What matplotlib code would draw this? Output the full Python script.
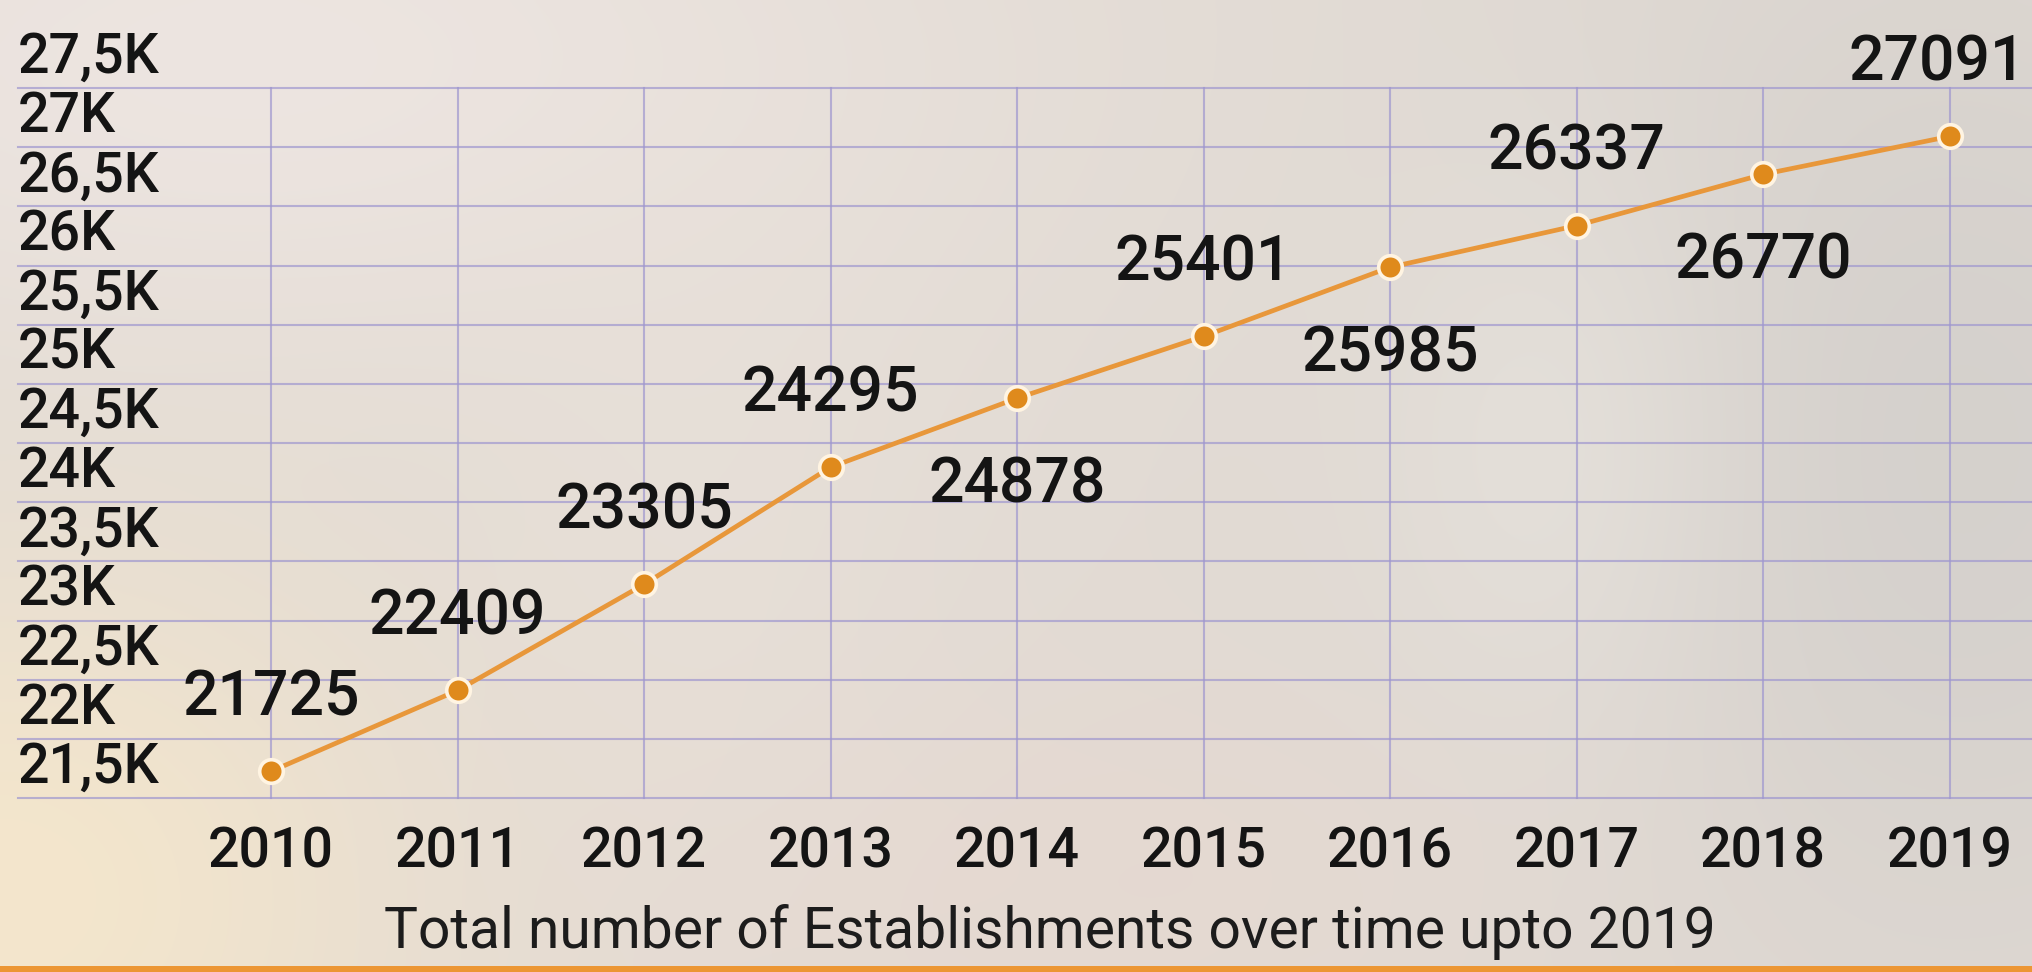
import numpy as np
import matplotlib
matplotlib.use("Agg")
import matplotlib.pyplot as plt
from matplotlib.transforms import offset_copy

# ---- data -------------------------------------------------------------
years = [2010, 2011, 2012, 2013, 2014, 2015, 2016, 2017, 2018, 2019]
establishments = [21725, 22409, 23305, 24295, 24878, 25401, 25985, 26337, 26770, 27091]
label_side = ["above", "above", "above", "above", "below",
              "above", "below", "above", "below", "above"]
y_ticks = [21500, 22000, 22500, 23000, 23500, 24000, 24500,
           25000, 25500, 26000, 26500, 27000, 27500]
y_tick_labels = ["21,5K", "22K", "22,5K", "23K", "23,5K", "24K", "24,5K",
                 "25K", "25,5K", "26K", "26,5K", "27K", "27,5K"]
x_title = "Total number of Establishments over time upto 2019"

plt.rcParams["font.family"] = ["Roboto", "DejaVu Sans"]

W, H = 2033, 972
fig = plt.figure(figsize=(W / 100, H / 100), dpi=100)

# ---- soft blurred backdrop --------------------------------------------
bg = fig.add_axes([0, 0, 1, 1], zorder=-10)
gx, gy = np.meshgrid(np.linspace(0, W, 300), np.linspace(0, H, 150))
base = np.array([226, 219, 212], float)
img = np.ones((150, 300, 3)) * base


def blob(cx, cy, sx, sy, color, strength=1.0):
    w = strength * np.exp(-(((gx - cx) / sx) ** 2 + ((gy - cy) / sy) ** 2))
    return w[..., None], np.array(color, float)


for cx, cy, sx, sy, col, s in [
    (250, 60, 700, 300, (238, 230, 226), 0.9),
    (0, 900, 450, 350, (244, 230, 204), 1.0),
    (1950, 450, 450, 600, (212, 208, 204), 0.9),
    (1050, 880, 500, 200, (230, 216, 208), 0.7),
    (1550, 450, 180, 300, (232, 228, 222), 0.6),
    (700, 500, 250, 400, (234, 226, 218), 0.5),
]:
    w, c = blob(cx, cy, sx, sy, col, s)
    img = img * (1 - w) + c * w
bg.imshow(img / 255.0, extent=[0, W, H, 0], aspect="auto", interpolation="bicubic")
# thin orange strip along the bottom edge
strip = np.zeros((2, 300, 3))
strip[:] = np.array([236, 150, 52]) / 255.0
bg.imshow(strip, extent=[0, W, H, 966], aspect="auto")
bg.set_xlim(0, W)
bg.set_ylim(H, 0)
bg.axis("off")

# ---- plot area ---------------------------------------------------------
left_px, right_px, top_px, bottom_px = 18, W, 88, 798
ax = fig.add_axes([left_px / W, (H - bottom_px) / H,
                   (right_px - left_px) / W, (bottom_px - top_px) / H])
ax.patch.set_alpha(0)
x0_px, dx_px = 271, 186.5
ax.set_xlim(years[0] - (x0_px - left_px) / dx_px,
            years[-1] + (right_px - (x0_px + 9 * dx_px)) / dx_px)
ax.set_ylim(y_ticks[0], y_ticks[-1])
for s in ax.spines.values():
    s.set_visible(False)

ax.set_xticks(years)
ax.set_yticks(y_ticks)
ax.tick_params(length=0, labelleft=False, labelbottom=False)
ax.grid(True, color="#9f97cf", lw=1.5, alpha=0.7)
for gl in ax.get_xgridlines() + ax.get_ygridlines():
    gl.set_clip_on(False)

# y tick labels sit just above their grid lines
ytrans = offset_copy(ax.get_yaxis_transform(), fig=fig, x=0, y=15, units="dots")
for v, lab in zip(y_ticks, y_tick_labels):
    ax.text(0, v, lab, transform=ytrans, ha="left", va="baseline",
            fontsize=40, fontweight="medium", color="#141414", clip_on=False)

# x tick labels
xtrans = offset_copy(ax.get_xaxis_transform(), fig=fig, x=0, y=-69, units="dots")
for yr in years:
    ax.text(yr, 0, str(yr), transform=xtrans, ha="center", va="baseline",
            fontsize=40, fontweight="medium", color="#141414", clip_on=False)

# axis title
fig.text(1050 / W, (H - 948) / H, x_title, ha="center", va="baseline",
         fontsize=41, color="#1c1c1c")

# ---- series ------------------------------------------------------------
ax.plot(years, establishments, color="#e8973a", lw=3.4, zorder=3,
        solid_capstyle="round", clip_on=False)
ax.plot(years, establishments, ls="none", marker="o", ms=17,
        mfc="#df8a1c", mec="#fff4e2", mew=2.6, zorder=4, clip_on=False)

for i, (yr, v, side) in enumerate(zip(years, establishments, label_side)):
    dy = 40.3 if side == "above" else -74.9
    dx = -9.0 if i == len(years) - 1 else 0.0   # keep the last label inside
    ax.annotate(str(v), (yr, v), xytext=(dx, dy), textcoords="offset points",
                ha="center", va="baseline", fontsize=45, fontweight="medium",
                color="#141414", annotation_clip=False, zorder=5)

fig.savefig("out.png", dpi=100)
